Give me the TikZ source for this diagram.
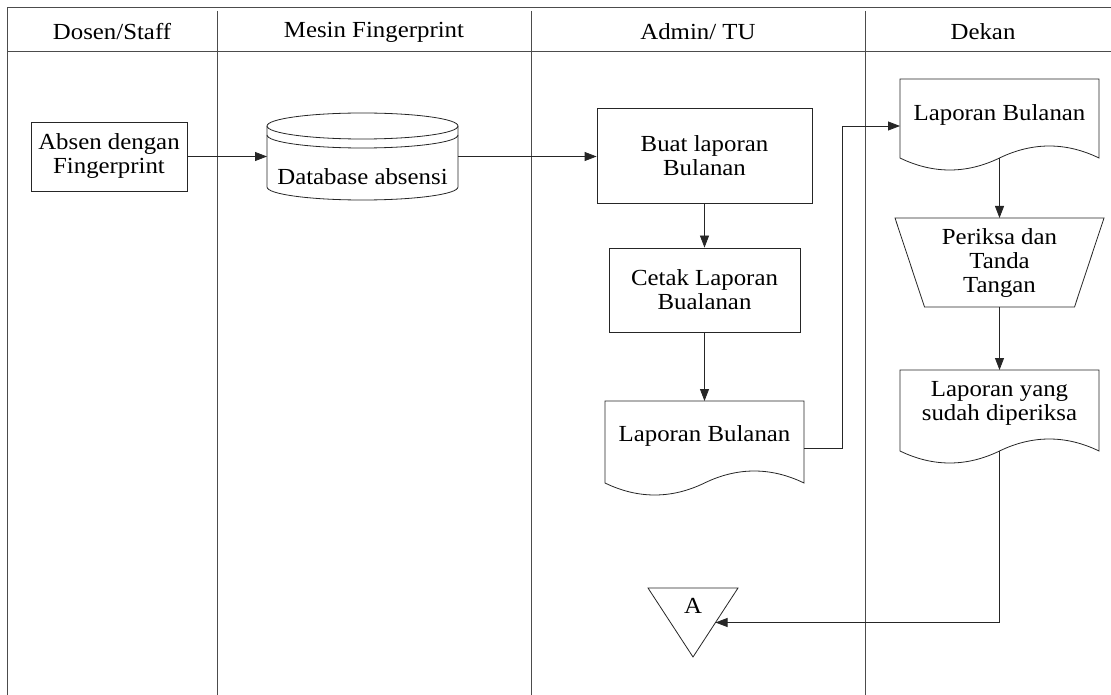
\documentclass[tikz,border=0pt]{standalone}
\usepackage{fontspec}
\setmainfont{Liberation Serif}[FakeStretch=1.08]
\usetikzlibrary{arrows.meta,calc}
\newcommand\docpath[1]{%
  \draw[shp] (#1.south west) -- (#1.north west) -- (#1.north east) -- (#1.south east)
    .. controls ([xshift=-33pt,yshift=16pt]#1.south east) and ([xshift=33pt,yshift=16pt]#1.south) .. (#1.south)
    .. controls ([xshift=-33pt,yshift=-16pt]#1.south) and ([xshift=33pt,yshift=-16pt]#1.south west) .. (#1.south west) -- cycle;}
\begin{document}
\begin{tikzpicture}[x=1pt,y=-1pt,
  lane/.style={draw=black!70, line width=0.9pt},
  shp/.style={draw=black!85, line width=0.8pt},
  txt/.style={align=center, inner sep=0pt, font=\fontsize{23}{24}\selectfont},
  box/.style={txt, draw=black!85, line width=0.8pt},
  frame/.style={inner sep=0pt, outer sep=0pt},
  arr/.style={draw=black!85, line width=0.8pt, -{Triangle[length=12pt,width=9pt]}}]
\useasboundingbox (0,0) rectangle (1111,695);
% swimlane frame
\draw[lane] (7,695) -- (7,7) -- (1111,7);
\draw[lane] (7,51) -- (1111,51);
\draw[lane] (217,11) -- (217,695);
\draw[lane] (531,11) -- (531,695);
\draw[lane] (865,11) -- (865,695);
\node[txt] (h1) at (112,32) {Dosen/Staff};
\node[txt] (h2) at (374,32) {Mesin Fingerprint};
\node[txt] (h3) at (698,32) {Admin/ TU};
\node[txt] (h4) at (983,32) {Dekan};
% Dosen
\node[box, minimum width=156pt, minimum height=69pt] (absen) at (109,156.5) {Absen dengan\\Fingerprint};
% database cylinder
\node[frame, minimum width=191pt, minimum height=87pt] (db) at (362.5,156.5) {};
\draw[shp] ([yshift=-13pt]db.north) ellipse [x radius=95.5pt, y radius=13pt];
\draw[shp] ([yshift=-22pt]db.north west) arc[start angle=180, end angle=360, x radius=95.5pt, y radius=13pt];
\draw[shp] ([yshift=-13pt]db.north west) -- ([yshift=13pt]db.south west)
  arc[start angle=180, end angle=360, x radius=95.5pt, y radius=13pt] -- ([yshift=-13pt]db.north east);
\node[txt] (dbt) at (362.5,177) {Database absensi};
% Admin
\node[box, minimum width=215pt, minimum height=95pt] (buat) at (704.5,155.5) {Buat laporan\\Bulanan};
\node[box, minimum width=191pt, minimum height=84pt] (cetak) at (704.5,290) {Cetak Laporan\\Bualanan};
\node[frame, minimum width=199pt, minimum height=82pt] (lap1) at (704.5,442) {};
\docpath{lap1}
\node[txt] (lap1t) at (704.5,436) {Laporan Bulanan};
% connector A
\node[frame, minimum width=90pt, minimum height=69pt] (conA) at (693,622.5) {};
\draw[shp] (conA.north west) -- (conA.north east) -- (conA.south) -- cycle;
\node[txt] (conAt) at (693,606) {A};
% Dekan
\node[frame, minimum width=199pt, minimum height=79pt] (lap2) at (999.5,118.5) {};
\docpath{lap2}
\node[txt] (lap2t) at (999.5,115) {Laporan Bulanan};
\node[frame, minimum width=209pt, minimum height=89pt] (periksa) at (999.5,262.5) {};
\draw[shp] (periksa.north west) -- (periksa.north east) -- ([xshift=-29.5pt]periksa.south east)
  -- ([xshift=29.5pt]periksa.south west) -- cycle;
\node[txt] (periksat) at (999.5,263) {Periksa dan\\Tanda\\Tangan};
\node[frame, minimum width=199pt, minimum height=81pt] (lap3) at (999.5,410.5) {};
\docpath{lap3}
\node[txt] (lap3t) at (999.5,403.5) {Laporan yang\\sudah diperiksa};
% connectors
\draw[arr] (absen.east) -- (db.west);
\draw[arr] (db.east) -- (db.east -| buat.west);
\draw[arr] (buat.south) -- (cetak.north);
\draw[arr] (cetak.south) -- (lap1.north);
\coordinate (bend) at (842,126);
\draw[arr] ([yshift=-6pt]lap1.east) -| (bend) -- (bend -| lap2.west);
\draw[arr] (lap2.south) -- (periksa.north);
\draw[arr] (periksa.south) -- (lap3.north);
\coordinate (tipA) at ($(conA.north east)!0.5!(conA.south)$);
\draw[arr] (lap3.south) |- (tipA);
\end{tikzpicture}
\end{document}
